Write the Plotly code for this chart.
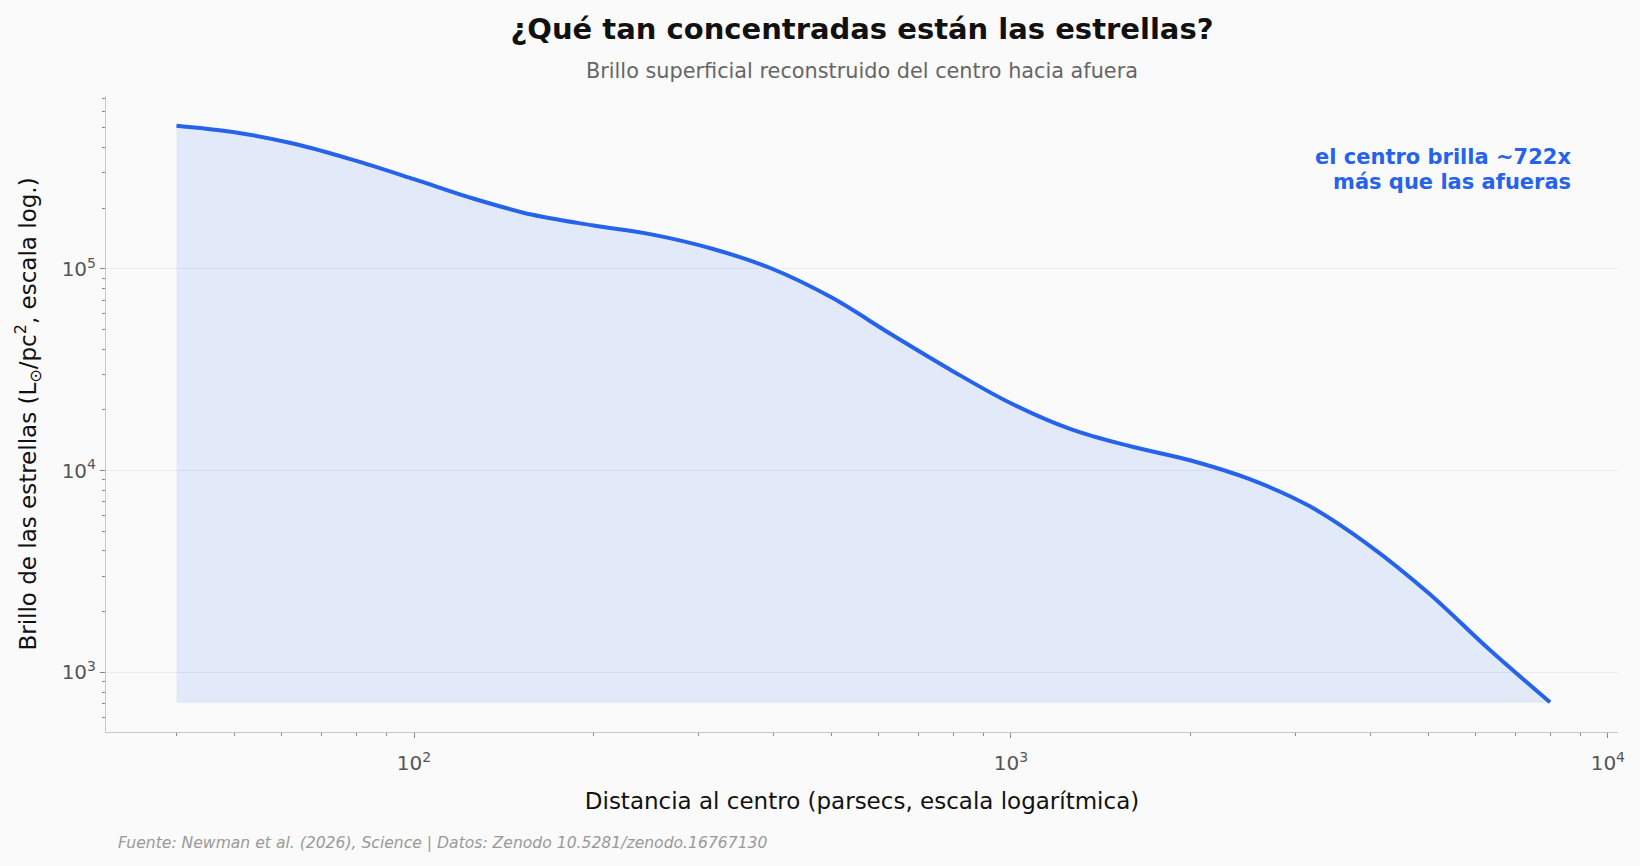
import plotly.graph_objects as go

# Data (radius in parsecs, surface brightness in Lsun/pc^2)
radius_pc = [40, 50, 63, 79, 100, 126, 158, 200, 251, 316, 398, 501, 631, 794,
             1000, 1259, 1585, 1995, 2512, 3162, 3981, 5012, 6310, 8000]
brightness = [513000, 476000, 417000, 347000, 278600, 222800, 185400, 164100, 147900,
              125900, 100200, 72100, 47300, 31500, 21580, 16070, 13210, 11270, 9080,
              6680, 4270, 2470, 1310, 712]

x_tick_vals = [100, 1000, 10000]
x_tick_text = ["10<sup>2</sup>", "10<sup>3</sup>", "10<sup>4</sup>"]
y_tick_vals = [1000, 10000, 100000]
y_tick_text = ["10<sup>3</sup>", "10<sup>4</sup>", "10<sup>5</sup>"]

title = "¿Qué tan concentradas están las estrellas?"
subtitle = "Brillo superficial reconstruido del centro hacia afuera"
x_title = "Distancia al centro (parsecs, escala logarítmica)"
y_title = "Brillo de las estrellas (L<sub>⊙</sub>/pc<sup>2</sup>, escala log.)"
note_lines = ["el centro brilla ~722x", "más que las afueras"]
footer = "Fuente: Newman et al. (2026), Science | Datos: Zenodo 10.5281/zenodo.16767130"

BLUE = "#2563eb"
BG = "#fafafa"
FONT = "DejaVu Sans"

ymin = min(brightness)
x_minor = [m * 10 ** e for e in (1, 2, 3) for m in range(2, 10) if 30 < m * 10 ** e < 10500]
y_minor = [m * 10 ** e for e in (2, 3, 4, 5) for m in range(2, 10) if 500 < m * 10 ** e < 720000]

fig = go.Figure()
fig.add_trace(go.Scatter(
    x=[radius_pc[0], radius_pc[-1]], y=[ymin, ymin], mode="lines",
    line=dict(width=0.8, color="rgba(37,99,235,0.10)"), hoverinfo="skip", showlegend=False))
fig.add_trace(go.Scatter(
    x=radius_pc, y=brightness, mode="lines",
    line=dict(color=BLUE, width=4, shape="spline", smoothing=1.0),
    fill="tonexty", fillcolor="rgba(37,99,235,0.11)", showlegend=False))

axis_common = dict(
    showline=True, linecolor="#c8c8c8", linewidth=1, mirror=False,
    ticks="outside", ticklen=5, tickwidth=1, tickcolor="#888",
    tickfont=dict(family=FONT, size=20, color="#555"), zeroline=False,
)
fig.update_xaxes(
    type="log", range=[1.484, 4.017], tickvals=x_tick_vals, ticktext=x_tick_text,
    showgrid=False, ticklabelstandoff=8,
    minor=dict(tickvals=x_minor, ticks="outside", ticklen=3, tickcolor="#888", showgrid=False),
    title=dict(text=x_title, font=dict(family=FONT, size=23, color="#111"), standoff=18),
    **axis_common)
fig.update_yaxes(
    type="log", range=[2.705, 5.857], tickvals=y_tick_vals, ticktext=y_tick_text,
    showgrid=True, gridcolor="#ebebeb", gridwidth=1,
    minor=dict(tickvals=y_minor, ticks="outside", ticklen=3, tickcolor="#888", showgrid=False),
    title=dict(text=y_title, font=dict(family=FONT, size=23, color="#111"), standoff=18),
    **axis_common)

annotations = [
    dict(text=subtitle, xref="paper", yref="paper", x=0.5, y=1,
         xanchor="center", yanchor="middle", showarrow=False,
         font=dict(family=FONT, size=20.8, color="#666"), yshift=25),
    dict(text=f"<i>{footer}</i>", xref="paper", yref="paper", x=(116 - 106) / 1512,
         y=0, yshift=-(843 - 732), xanchor="left", yanchor="middle", showarrow=False,
         font=dict(family=FONT, size=15.6, color="#999")),
]
for i, line in enumerate(note_lines):
    annotations.append(dict(
        text=f"<b>{line}</b>", xref="paper", yref="paper", x=0.97, y=1,
        yshift=-(61 + 25 * i), xanchor="right", yanchor="middle", showarrow=False,
        font=dict(family=FONT, size=21, color=BLUE)))

fig.update_layout(
    width=1640, height=866,
    paper_bgcolor=BG, plot_bgcolor=BG,
    margin=dict(l=106, r=22, t=96, b=134),
    font=dict(family=FONT),
    title=dict(text=f"<b>{title}</b>", xref="paper", x=0.5, xanchor="center",
               y=1 - 29 / 866, yanchor="middle",
               font=dict(family=FONT, size=29, color="#111")),
    annotations=annotations,
)

fig.write_html("out.html")
